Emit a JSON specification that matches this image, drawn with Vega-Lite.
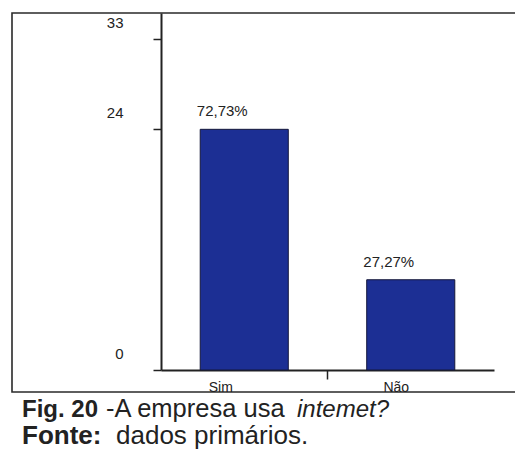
{
  "$schema": "https://vega.github.io/schema/vega-lite/v6.json",
  "padding": {"left": 11, "top": 12, "right": 0, "bottom": 0},
  "spacing": 0,
  "bounds": "flush",
  "config": {
    "locale": {"number": {"decimal": ",", "thousands": ".", "grouping": [3], "currency": ["R$", ""]}},
    "view": {"stroke": "#2a2a2a", "strokeWidth": 1.6},
    "font": "Liberation Sans"
  },
  "datasets": {
    "respostas": [
      {"resposta": "Sim", "empresas": 24, "percentual": 0.7273},
      {"resposta": "Não", "empresas": 9, "percentual": 0.2727}
    ]
  },
  "vconcat": [
    {
      "width": 520,
      "height": 379,
      "data": {"name": "respostas"},
      "encoding": {
        "x": {
          "field": "resposta",
          "type": "nominal",
          "sort": ["Sim", "Não"],
          "scale": {"range": [149, 482], "paddingInner": 0.471, "paddingOuter": 0.2355},
          "axis": {
            "title": null,
            "offset": -22,
            "labelAngle": 0,
            "tickOffset": 83,
            "tickSize": 9,
            "tickWidth": 1.5,
            "tickColor": "#222",
            "tickOpacity": {"condition": {"test": "datum.value === 'Sim'", "value": 1}, "value": 0},
            "domainColor": "#222",
            "domainWidth": 2,
            "labelFont": "Liberation Sans",
            "labelFontSize": 14,
            "labelColor": "#222",
            "labelPadding": 1,
            "labelOffset": {"condition": {"test": "datum.value === 'Sim'", "value": -107}, "value": -98}
          }
        },
        "y": {
          "field": "empresas",
          "type": "quantitative",
          "scale": {"domain": [0, 35.6], "range": [357, 0], "nice": false, "zero": true},
          "axis": {
            "title": null,
            "values": [0, 24, 33],
            "offset": -149,
            "grid": false,
            "domainColor": "#222",
            "domainWidth": 2,
            "tickColor": "#222",
            "tickWidth": 1.5,
            "tickSize": 8,
            "labelPadding": 30,
            "labelOffset": -17,
            "labelFont": "Liberation Sans",
            "labelFontSize": 15,
            "labelColor": "#222"
          }
        }
      },
      "layer": [
        {
          "mark": {"type": "bar", "color": "#1c2f94", "stroke": "#15183a", "strokeWidth": 1}
        },
        {
          "mark": {"type": "text", "dx": -22, "dy": -18, "fontSize": 15, "color": "#222", "font": "Liberation Sans"},
          "encoding": {
            "text": {"field": "percentual", "type": "quantitative", "format": ".2%"}
          }
        }
      ]
    },
    {
      "width": 520,
      "height": 90,
      "data": {"values": [{}]},
      "layer": [
        {"mark": {"type": "text", "text": "Fig. 20", "x": 10, "y": 25, "align": "left", "baseline": "alphabetic", "fontSize": 24, "fontWeight": "bold", "color": "#222"}},
        {"mark": {"type": "text", "text": "-A empresa usa", "x": 94, "y": 25, "align": "left", "baseline": "alphabetic", "fontSize": 25.5, "color": "#222"}},
        {"mark": {"type": "text", "text": "intemet?", "x": 285, "y": 25, "align": "left", "baseline": "alphabetic", "fontSize": 24, "fontStyle": "italic", "color": "#222"}},
        {"mark": {"type": "text", "text": "Fonte:", "x": 10, "y": 52, "align": "left", "baseline": "alphabetic", "fontSize": 26, "fontWeight": "bold", "color": "#222"}},
        {"mark": {"type": "text", "text": "dados primários.", "x": 104, "y": 52, "align": "left", "baseline": "alphabetic", "fontSize": 26, "color": "#222"}}
      ]
    }
  ]
}
